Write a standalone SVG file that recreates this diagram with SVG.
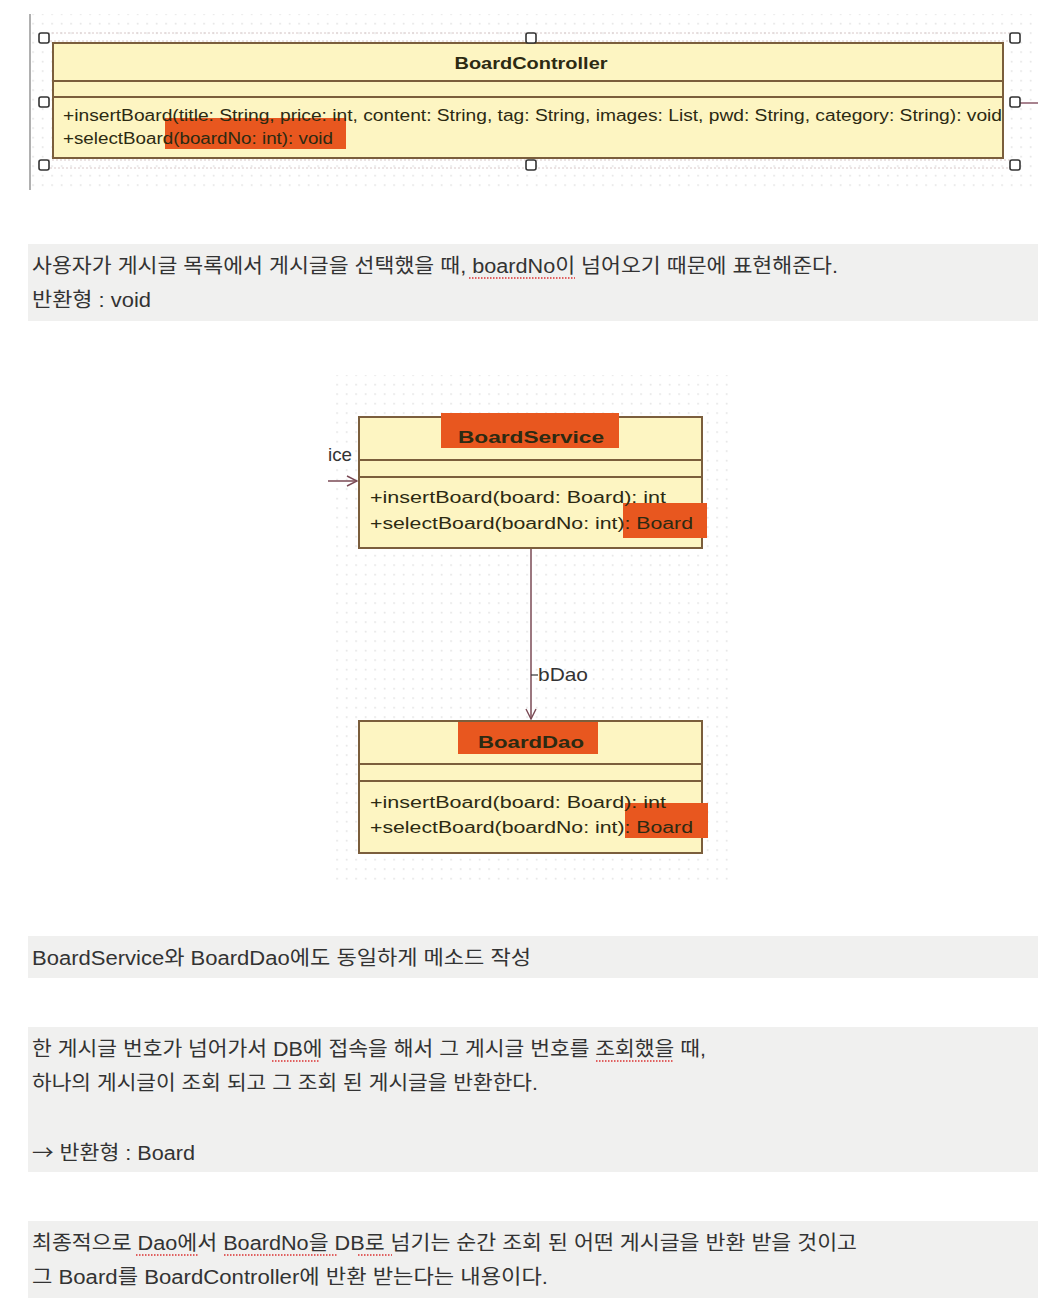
<svg xmlns="http://www.w3.org/2000/svg" width="1058" height="1312" viewBox="0 0 1058 1312">
<defs>
<pattern id="dots" x="0" y="0" width="9.5" height="9.5" patternUnits="userSpaceOnUse">
<rect x="4" y="4" width="1.3" height="1.3" fill="#d4d4d4"/>
</pattern>
<marker id="open" viewBox="0 0 12 12" refX="11" refY="6" markerWidth="12" markerHeight="12" markerUnits="userSpaceOnUse" orient="auto">
<path d="M1,1 L11,6 L1,11" fill="none" stroke="#7a4a55" stroke-width="1.4"/>
</marker>
</defs>
<style>
.uml{fill:#fdf5c2;stroke:#7b5e3c;stroke-width:2}
.div{stroke:#7b5e3c;stroke-width:2}
.hl{fill:#e8571f}
.t{font-family:"Liberation Sans",Arial,sans-serif;font-size:16px;fill:#2c2a12}
.tb{font-family:"Liberation Sans",Arial,sans-serif;font-size:17px;font-weight:bold;fill:#2c2a12}
.ko{font-family:"Liberation Sans","Noto Sans CJK KR",sans-serif;font-size:20px;fill:#333333}
.bg{fill:#f0f0ef}
.handle{fill:#ffffff;stroke:#333;stroke-width:1.6}
.sq{stroke:#e06060;stroke-width:2;stroke-dasharray:1.5 1.5}
.lbl{font-family:"Liberation Sans",Arial,sans-serif;font-size:19px;fill:#333}
</style>
<rect width="1058" height="1312" fill="#ffffff"/>

<!-- top diagram -->
<g id="controller-area">
<rect x="31" y="14" width="1007" height="176" fill="url(#dots)"/>
<line x1="30" y1="14" x2="30" y2="190" stroke="#b0b0b0" stroke-width="2"/>
</g>
<g id="BoardController">
<rect x="48" y="33" width="962" height="8" fill="none" stroke="#d8c8c8" stroke-width="1" stroke-dasharray="2 2"/>
<rect x="48" y="160" width="962" height="8" fill="none" stroke="#d8c8c8" stroke-width="1" stroke-dasharray="2 2"/>
<rect class="uml" x="53" y="43" width="950" height="115"/>
<line class="div" x1="53" y1="81" x2="1003" y2="81"/>
<line class="div" x1="53" y1="97" x2="1003" y2="97"/>
<line x1="1010" y1="103" x2="1038" y2="103" stroke="#8b5a6a" stroke-width="1.5"/>
<rect class="hl" x="165" y="118" width="181" height="31"/>
<text class="tb" x="531" y="69" text-anchor="middle" textLength="153" lengthAdjust="spacingAndGlyphs">BoardController</text>
<text class="t" x="63" y="121" textLength="939" lengthAdjust="spacingAndGlyphs">+insertBoard(title: String, price: int, content: String, tag: String, images: List, pwd: String, category: String): void</text>
<text class="t" x="63" y="144" textLength="270" lengthAdjust="spacingAndGlyphs">+selectBoard(boardNo: int): void</text>
<rect class="handle" x="39" y="33" width="10" height="10" rx="2"/>
<rect class="handle" x="526" y="33" width="10" height="10" rx="2"/>
<rect class="handle" x="1010" y="33" width="10" height="10" rx="2"/>
<rect class="handle" x="39" y="97" width="10" height="10" rx="2"/>
<rect class="handle" x="1010" y="97" width="10" height="10" rx="2"/>
<rect class="handle" x="39" y="160" width="10" height="10" rx="2"/>
<rect class="handle" x="526" y="160" width="10" height="10" rx="2"/>
<rect class="handle" x="1010" y="160" width="10" height="10" rx="2"/>
</g>

<!-- text block 1 -->
<g id="note1">
<rect class="bg" x="28" y="244" width="1010" height="77"/>
<text class="ko" x="32" y="273" textLength="806" lengthAdjust="spacingAndGlyphs">사용자가 게시글 목록에서 게시글을 선택했을 때, boardNo이 넘어오기 때문에 표현해준다.</text>
<line class="sq" x1="469" y1="278" x2="575" y2="278"/>
<text class="ko" x="32" y="307" textLength="119" lengthAdjust="spacingAndGlyphs">반환형 : void</text>
</g>

<!-- middle diagram -->
<rect x="332" y="375" width="400" height="507" fill="url(#dots)"/>
<g id="connectors">
<line x1="328" y1="481" x2="357" y2="481" stroke="#7a4a55" stroke-width="1.5" marker-end="url(#open)"/>
<line x1="531" y1="548" x2="531" y2="719" stroke="#7a4a55" stroke-width="1.5" marker-end="url(#open)"/>
<text class="lbl" x="328" y="461" textLength="24" lengthAdjust="spacingAndGlyphs">ice</text>
<line x1="531" y1="675" x2="538" y2="675" stroke="#333" stroke-width="1.2"/>
<text class="lbl" x="538" y="681" textLength="50" lengthAdjust="spacingAndGlyphs">bDao</text>
</g>
<g id="BoardService">
<rect class="uml" x="359" y="417" width="343" height="131"/>
<line class="div" x1="359" y1="460" x2="702" y2="460"/>
<line class="div" x1="359" y1="477" x2="702" y2="477"/>
<rect class="hl" x="441" y="413" width="178" height="35"/>
<rect class="hl" x="623" y="503" width="84" height="35"/>
<text class="tb" x="531" y="443" text-anchor="middle" textLength="146" lengthAdjust="spacingAndGlyphs">BoardService</text>
<text class="t" x="370" y="503" textLength="296" lengthAdjust="spacingAndGlyphs">+insertBoard(board: Board): int</text>
<text class="t" x="370" y="529" textLength="323" lengthAdjust="spacingAndGlyphs">+selectBoard(boardNo: int): Board</text>
</g>
<g id="BoardDao">
<rect class="uml" x="359" y="721" width="343" height="132"/>
<line class="div" x1="359" y1="764" x2="702" y2="764"/>
<line class="div" x1="359" y1="781" x2="702" y2="781"/>
<rect class="hl" x="458" y="722" width="140" height="32"/>
<rect class="hl" x="625" y="803" width="83" height="35"/>
<text class="tb" x="531" y="748" text-anchor="middle" textLength="106" lengthAdjust="spacingAndGlyphs">BoardDao</text>
<text class="t" x="370" y="808" textLength="296" lengthAdjust="spacingAndGlyphs">+insertBoard(board: Board): int</text>
<text class="t" x="370" y="833" textLength="323" lengthAdjust="spacingAndGlyphs">+selectBoard(boardNo: int): Board</text>
</g>

<!-- text block 2 -->
<g id="note2">
<rect class="bg" x="28" y="936" width="1010" height="42"/>
<text class="ko" x="32" y="965" textLength="499" lengthAdjust="spacingAndGlyphs">BoardService와 BoardDao에도 동일하게 메소드 작성</text>
</g>

<!-- text block 3 -->
<g id="note3">
<rect class="bg" x="28" y="1027" width="1010" height="145"/>
<text class="ko" x="32" y="1056" textLength="674" lengthAdjust="spacingAndGlyphs">한 게시글 번호가 넘어가서 DB에 접속을 해서 그 게시글 번호를 조회했을 때,</text>
<line class="sq" x1="272" y1="1061" x2="319" y2="1061"/>
<line class="sq" x1="596" y1="1061" x2="674" y2="1061"/>
<text class="ko" x="32" y="1090" textLength="506" lengthAdjust="spacingAndGlyphs">하나의 게시글이 조회 되고 그 조회 된 게시글을 반환한다.</text>
<text class="ko" x="32" y="1160" textLength="163" lengthAdjust="spacingAndGlyphs"><tspan font-family="'Noto Sans CJK KR','DejaVu Sans',sans-serif">→</tspan> 반환형 : Board</text>
</g>

<!-- text block 4 -->
<g id="note4">
<rect class="bg" x="28" y="1221" width="1010" height="77"/>
<text class="ko" x="32" y="1250" textLength="825" lengthAdjust="spacingAndGlyphs">최종적으로 Dao에서 BoardNo을 DB로 넘기는 순간 조회 된 어떤 게시글을 반환 받을 것이고</text>
<line class="sq" x1="136" y1="1255" x2="199" y2="1255"/>
<line class="sq" x1="224" y1="1255" x2="338" y2="1255"/>
<line class="sq" x1="358" y1="1255" x2="392" y2="1255"/>
<text class="ko" x="32" y="1284" textLength="516" lengthAdjust="spacingAndGlyphs">그 Board를 BoardController에 반환 받는다는 내용이다.</text>
</g>
</svg>
